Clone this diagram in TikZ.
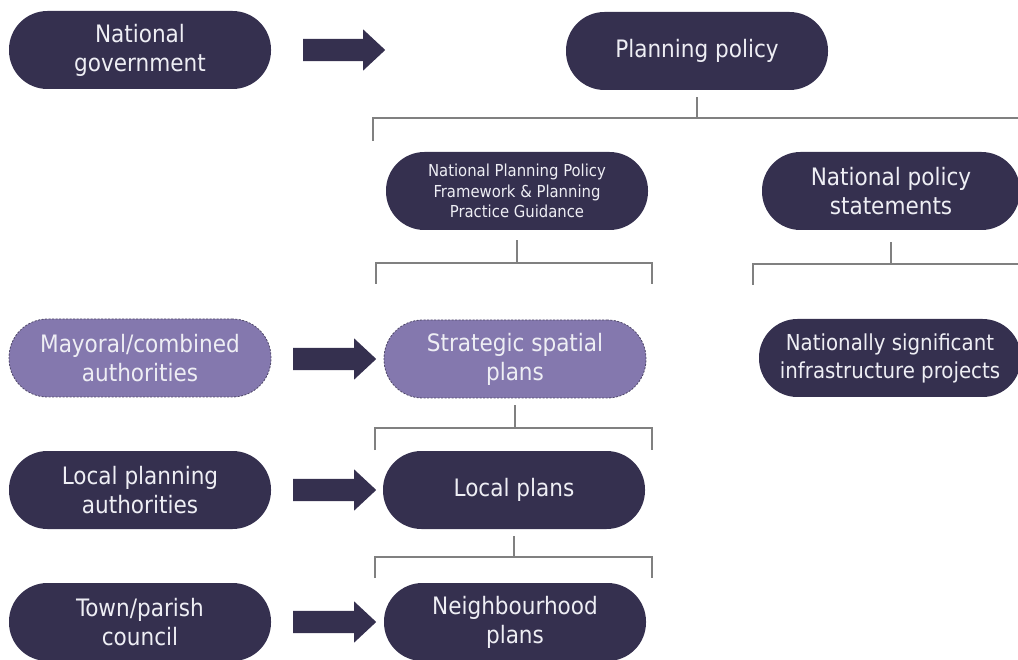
\documentclass[tikz,border=0pt]{standalone}
\usepackage{fontspec}
\setmainfont{DejaVu Sans Condensed}
\usetikzlibrary{shapes.arrows}
\definecolor{navy}{HTML}{35304F}
\definecolor{lav}{HTML}{8478AE}
\definecolor{lavedge}{HTML}{4F4868}
\definecolor{pilltext}{HTML}{EEEEF4}
\definecolor{linegray}{HTML}{808080}

\begin{document}
\begin{tikzpicture}[x=1pt,y=-1pt,
  pill/.style={rectangle, rounded corners=38.5pt, minimum width=262pt,
    minimum height=78pt, inner sep=0pt, fill=navy, text=pilltext,
    align=center, font=\fontsize{24}{29}\selectfont},
  dashpill/.style={pill, fill=lav, draw=lavedge, line width=0.8pt,
    dash pattern=on 2pt off 1.5pt},
  blockarrow/.style={single arrow, fill=navy, draw=none, inner xsep=0pt,
    inner ysep=11pt, minimum height=83pt, minimum width=41pt,
    single arrow head extend=9.5pt, single arrow tip angle=86, anchor=west},
  treeline/.style={draw=linegray, line width=1.3pt},
]
\useasboundingbox (0,0) rectangle (1018,660);
\clip (0,0) rectangle (1018,660);

% actors (left column)
\node[pill]     (ng)  at (140,50)  {National\\government};
\node[dashpill] (mca) at (140,358) {Mayoral/combined\\authorities};
\node[pill]     (lpa) at (140,490) {Local planning\\authorities};
\node[pill]     (tpc) at (140,622) {Town/parish\\council};

% policy and plans
\node[pill] (pp) at (697,51) {Planning policy};
\node[pill, font=\fontsize{16.5}{20.5}\selectfont] (nppf) at (517,191)
  {National Planning Policy\\Framework \& Planning\\Practice Guidance};
\node[pill, minimum width=258pt] (nps) at (891,191) {National policy\\statements};
\node[pill, font=\fontsize{22}{28}\selectfont] (nsip) at (890,358)
  {Nationally significant\\infrastructure projects};
\node[dashpill] (ssp) at (515,359) {Strategic spatial\\plans};
\node[pill]     (lp)  at (514,490) {Local plans};
\node[pill]     (np)  at (515,622) {Neighbourhood\\plans};

% block arrows from each actor to what it produces
\node[blockarrow, minimum height=82pt] (a1) at (303,50) {};
\node[blockarrow] (a2) at (293,359) {};
\node[blockarrow] (a3) at (293,490) {};
\node[blockarrow] (a4) at (293,622) {};

% hierarchy brackets
\coordinate (b1L) at (373,118);  \coordinate (b1R) at (1018,118);
\coordinate (b2L) at (376,263);  \coordinate (b2R) at (652,263);
\coordinate (b3L) at (753,264);  \coordinate (b3R) at (1018,264);
\coordinate (b4L) at (375,428);  \coordinate (b4R) at (652,428);
\coordinate (b5L) at (375,557);  \coordinate (b5R) at (652,557);

\draw[treeline] ([yshift=-7pt]pp.south) -- (pp.south |- b1L);
\draw[treeline] (b1L) ++(0,23) -- (b1L) -- (b1R);

\draw[treeline] ([yshift=-10pt]nppf.south) -- (nppf.south |- b2L);
\draw[treeline] (b2L) ++(0,21) -- (b2L) -- (b2R) -- ++(0,21);

\draw[treeline] ([yshift=-12pt]nps.south) -- (nps.south |- b3L);
\draw[treeline] (b3L) ++(0,21) -- (b3L) -- (b3R);

\draw[treeline] ([yshift=-7pt]ssp.south) -- (ssp.south |- b4L);
\draw[treeline] (b4L) ++(0,22) -- (b4L) -- (b4R) -- ++(0,22);

\draw[treeline] ([yshift=-7pt]lp.south) -- (lp.south |- b5L);
\draw[treeline] (b5L) ++(0,21) -- (b5L) -- (b5R) -- ++(0,21);
\end{tikzpicture}
\end{document}
